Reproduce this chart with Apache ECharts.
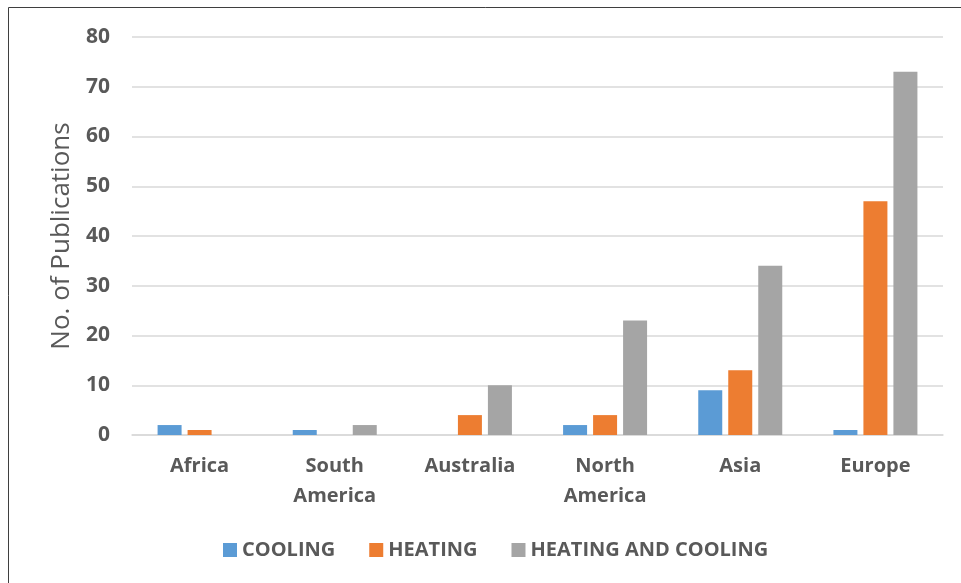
<!DOCTYPE html>
<html>
<head>
<meta charset="utf-8">
<script src="https://cdn.jsdelivr.net/npm/echarts@6/dist/echarts.min.js"></script>
<style>
  html, body { margin: 0; padding: 0; background: #fff; }
  #chart { width: 961px; height: 583px; }
</style>
</head>
<body>
<div id="chart"></div>
<script>
// Publications per region, split by application type
const regions = ['Africa', 'South\nAmerica', 'Australia', 'North\nAmerica', 'Asia', 'Europe'];
const cooling = [2, 1, 0, 2, 9, 1];
const heating = [1, 0, 4, 4, 13, 47];
const heatingAndCooling = [0, 2, 10, 23, 34, 73];
const seriesNames = ['COOLING', 'HEATING', 'HEATING AND COOLING'];
const yTicks = { min: 0, max: 80, step: 10 };

const textColor = '#595959';
const font = '"Open Sans", "Liberation Sans", sans-serif';

const chart = echarts.init(document.getElementById('chart'));

function bar(name, data, color) {
  return {
    name: name,
    type: 'bar',
    data: data,
    barWidth: 24,
    barGap: '25%',
    itemStyle: { color: color },
    emphasis: { disabled: true }
  };
}

chart.setOption({
  animation: false,
  textStyle: { fontFamily: font },
  graphic: [{
    type: 'rect',
    shape: { x: 8.5, y: 7.5, width: 970, height: 600 },
    style: { fill: 'none', stroke: '#3f3f3f', lineWidth: 1 },
    silent: true
  }],
  grid: { left: 132, right: 18, top: 37, bottom: 148 },
  legend: {
    top: 535,
    left: 218,
    itemWidth: 14,
    itemHeight: 14,
    itemGap: 34,
    icon: 'rect',
    textStyle: { color: textColor, fontSize: 20, fontWeight: 'bold', fontFamily: font },
    data: seriesNames
  },
  xAxis: {
    type: 'category',
    data: regions,
    axisLine: { lineStyle: { color: '#d9d9d9', width: 1.5 } },
    axisTick: { show: false },
    axisLabel: {
      color: textColor, fontSize: 20, fontWeight: 'bold', fontFamily: font,
      margin: 16, lineHeight: 30, interval: 0
    }
  },
  yAxis: {
    type: 'value',
    min: yTicks.min,
    max: yTicks.max,
    interval: yTicks.step,
    name: 'No. of Publications',
    nameLocation: 'middle',
    nameGap: 57,
    nameTextStyle: { color: textColor, fontSize: 26, fontFamily: font },
    axisLine: { show: false },
    axisTick: { show: false },
    axisLabel: { color: textColor, fontSize: 21, fontWeight: 'bold', fontFamily: font, margin: 22 },
    splitLine: { lineStyle: { color: '#d9d9d9', width: 1.5 } }
  },
  series: [
    bar(seriesNames[0], cooling, '#5b9bd5'),
    bar(seriesNames[1], heating, '#ed7d31'),
    bar(seriesNames[2], heatingAndCooling, '#a5a5a5')
  ]
});
</script>
</body>
</html>
